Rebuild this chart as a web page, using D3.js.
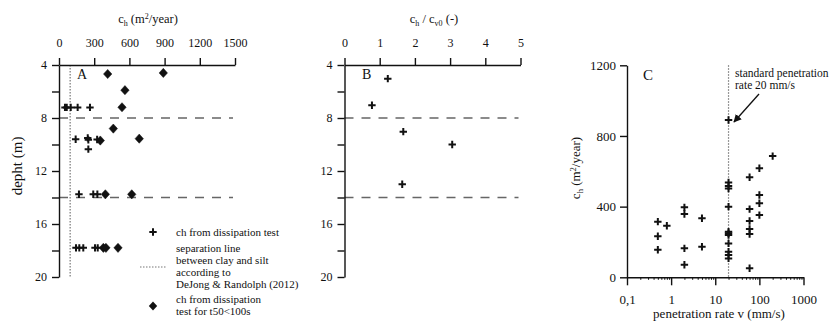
<!DOCTYPE html>
<html>
<head>
<meta charset="utf-8">
<script src="https://cdn.jsdelivr.net/npm/d3@7"></script>
<style>
body { margin: 0; background: #fff; }
svg text { font-family: "Liberation Serif", "Times New Roman", serif; fill: #111; }
.axis path, .axis line { stroke: #111; stroke-width: 1.4; }
.axis text { font-size: 12px; }
.axisC text { font-size: 13px; }
.minor path { display: none; }
.minor line { stroke: #111; stroke-width: 1; }
</style>
</head>
<body>
<div id="chart"></div>
<script>
var width = 829;
var height = 334;

// Panel A: [ch (m2/year), depth (m)]
var aCross = [
  [51, 7.2], [66, 7.2], [100, 7.2], [159, 7.2], [264, 7.2],
  [142, 9.6], [245, 9.5], [250, 9.65], [325, 9.62],
  [250, 10.35],
  [170, 13.76], [292, 13.76], [327, 13.76],
  [145, 17.8], [173, 17.8], [207, 17.8], [307, 17.8], [330, 17.8]
];
var aDiamond = [
  [415, 4.68], [889, 4.6], [562, 5.9], [537, 7.19], [463, 8.8],
  [352, 9.7], [684, 9.56], [395, 13.76], [620, 13.76],
  [378, 17.8], [400, 17.8], [503, 17.8]
];
var aTicks = [0, 300, 600, 900, 1200, 1500];
var depthTicks = [4, 6, 8, 10, 12, 14, 16, 18, 20];
var layerDepths = [8, 14];
var clayLimit = 95;

// Panel B: [ch / cv0, depth]
var bCross = [[1.23, 5.03], [0.78, 7.04], [1.67, 9.03], [3.06, 10.0], [1.64, 13.0]];
var bTicks = [0, 1, 2, 3, 4, 5];

// Panel C: [v (mm/s), ch (m2/year)]
var cCross = [
  [0.5, 315], [0.5, 232], [0.5, 156],
  [0.8, 292],
  [2, 396], [2, 358], [2, 164], [2, 71],
  [5, 334], [5, 173],
  [20, 890], [20, 537], [20, 517], [20, 503], [20, 400], [20, 258],
  [20, 249], [20, 239], [20, 192], [20, 145], [20, 126], [20, 107],
  [60, 566], [60, 386], [60, 319], [60, 273], [60, 245], [60, 51],
  [100, 617], [100, 466], [100, 419], [100, 352],
  [200, 686]
];
var cTicksY = [0, 400, 800, 1200];
var cTicksX = [0.1, 1, 10, 100, 1000];
var cTickLabels = ["0,1", "1", "10", "100", "1000"];
var standardRate = 20;

var svg = d3.select("#chart")
  .append("svg")
  .attr("width", width)
  .attr("height", height);

svg.append("defs").append("marker")
  .attr("id", "arrow")
  .attr("viewBox", "0 0 10 10")
  .attr("refX", 9)
  .attr("refY", 5)
  .attr("markerWidth", 8)
  .attr("markerHeight", 8)
  .attr("markerUnits", "userSpaceOnUse")
  .attr("orient", "auto")
  .append("path")
  .attr("d", "M0,0L10,5L0,10Z")
  .attr("fill", "#111");

var crossPath = "M-3.7,0H3.7M0,-3.7V3.7";
var diamondPath = "M0,-4.6L4.2,0L0,4.6L-4.2,0Z";

var yDepth = d3.scaleLinear().domain([4, 20]).range([65, 277]);
var xA = d3.scaleLinear().domain([0, 1500]).range([59, 235]);
var xB = d3.scaleLinear().domain([0, 5]).range([344.5, 520.5]);
var xC = d3.scaleLog().domain([0.1, 1000]).range([627, 803.5]);
var yC = d3.scaleLinear().domain([0, 1200]).range([277.3, 65.3]);

function depthAxis(x) {
  svg.append("g")
    .attr("class", "axis")
    .attr("transform", "translate(" + x + ",0)")
    .call(d3.axisLeft(yDepth)
      .tickValues(depthTicks)
      .tickSize(7)
      .tickPadding(5)
      .tickSizeOuter(0)
      .tickFormat(function(d) { return d % 4 === 0 ? d : ""; }));
}

function topAxis(scale, ticks) {
  svg.append("g")
    .attr("class", "axis")
    .attr("transform", "translate(0," + yDepth(4) + ")")
    .call(d3.axisTop(scale)
      .tickValues(ticks)
      .tickSize(7)
      .tickPadding(11)
      .tickSizeOuter(0)
      .tickFormat(d3.format("d")));
}

function dashedLayers(scale) {
  svg.selectAll(null)
    .data(layerDepths)
    .enter()
    .append("line")
    .attr("x1", scale.range()[0])
    .attr("x2", scale.range()[1] - 2)
    .attr("y1", function(d) { return yDepth(d); })
    .attr("y2", function(d) { return yDepth(d); })
    .attr("stroke", "#666")
    .attr("stroke-width", 1.4)
    .attr("stroke-dasharray", "9,8");
}

function drawMarks(data, xs, ys, path) {
  svg.selectAll(null)
    .data(data)
    .enter()
    .append("path")
    .attr("d", path)
    .attr("transform", function(d) {
      return "translate(" + xs(d[0]) + "," + ys(d[1]) + ")";
    })
    .attr("fill", "#111")
    .attr("stroke", "#111")
    .attr("stroke-width", path === crossPath ? 2 : 0.5);
}

// ch (m2/year) with sub/superscript
function chLabel(sel, small) {
  sel.append("tspan").text("c");
  sel.append("tspan").attr("font-size", small).attr("dy", 3).text("h");
  sel.append("tspan").attr("dy", -3).text(" (m");
  sel.append("tspan").attr("font-size", small).attr("dy", -4.5).text("2");
  sel.append("tspan").attr("dy", 4.5).text("/year)");
}

// ---------- Panel A ----------
dashedLayers(xA);

svg.append("line")
  .attr("x1", xA(clayLimit)).attr("x2", xA(clayLimit))
  .attr("y1", yDepth(4)).attr("y2", yDepth(20))
  .attr("stroke", "#777")
  .attr("stroke-width", 1.2)
  .attr("stroke-dasharray", "1.5,1.5");

depthAxis(xA(0));
topAxis(xA, aTicks);

drawMarks(aCross, xA, yDepth, crossPath);
drawMarks(aDiamond, xA, yDepth, diamondPath);

var titleA = svg.append("text")
  .attr("x", 148)
  .attr("y", 23)
  .attr("text-anchor", "middle")
  .attr("font-size", "12.5px");
chLabel(titleA, "8px");

svg.append("text")
  .attr("transform", "translate(22,166)rotate(-90)")
  .attr("text-anchor", "middle")
  .attr("font-size", "15px")
  .text("depht (m)");

svg.append("text")
  .attr("x", 77).attr("y", 79)
  .attr("font-size", "14px")
  .text("A");

// legend
var legend = svg.append("g").attr("font-size", "11px");
legend.append("path")
  .attr("d", crossPath)
  .attr("transform", "translate(153,232)")
  .attr("stroke", "#111")
  .attr("stroke-width", 2);
legend.append("text").attr("x", 176).attr("y", 236).text("ch from dissipation test");

legend.append("line")
  .attr("x1", 140).attr("x2", 167)
  .attr("y1", 267).attr("y2", 267)
  .attr("stroke", "#777")
  .attr("stroke-width", 1.2)
  .attr("stroke-dasharray", "1.5,1.5");
var sepLines = ["separation line", "between clay and silt", "according to", "DeJong & Randolph (2012)"];
legend.selectAll(null)
  .data(sepLines)
  .enter()
  .append("text")
  .attr("x", 176)
  .attr("y", function(d, i) { return 252 + i * 12; })
  .text(function(d) { return d; });

legend.append("path")
  .attr("d", diamondPath)
  .attr("transform", "translate(153,306)")
  .attr("fill", "#111");
legend.append("text").attr("x", 176).attr("y", 303).text("ch from dissipation");
legend.append("text").attr("x", 176).attr("y", 315).text("test for t50<100s");

// ---------- Panel B ----------
dashedLayers(xB);
depthAxis(xB(0));
topAxis(xB, bTicks);
drawMarks(bCross, xB, yDepth, crossPath);

var titleB = svg.append("text")
  .attr("x", 434)
  .attr("y", 23)
  .attr("text-anchor", "middle")
  .attr("font-size", "12.5px");
titleB.append("tspan").text("c");
titleB.append("tspan").attr("font-size", "8px").attr("dy", 3).text("h");
titleB.append("tspan").attr("dy", -3).text(" / c");
titleB.append("tspan").attr("font-size", "8px").attr("dy", 3).text("v0");
titleB.append("tspan").attr("dy", -3).text(" (-)");

svg.append("text")
  .attr("x", 362).attr("y", 79)
  .attr("font-size", "14px")
  .text("B");

// ---------- Panel C ----------
svg.append("line")
  .attr("x1", xC(standardRate)).attr("x2", xC(standardRate))
  .attr("y1", yC(1200)).attr("y2", yC(0))
  .attr("stroke", "#777")
  .attr("stroke-width", 1.2)
  .attr("stroke-dasharray", "1.5,1.5");

svg.append("g")
  .attr("class", "axis axisC")
  .attr("transform", "translate(" + xC.range()[0] + ",0)")
  .call(d3.axisLeft(yC)
    .tickValues(cTicksY)
    .tickSize(7)
    .tickPadding(4)
    .tickSizeOuter(0)
    .tickFormat(d3.format("d")));

var minorC = [];
[0.1, 1, 10, 100].forEach(function(dec) {
  for (var k = 2; k <= 9; k++) minorC.push(dec * k);
});
svg.append("g")
  .attr("class", "minor")
  .attr("transform", "translate(0," + yC(0) + ")")
  .call(d3.axisBottom(xC).tickValues(minorC).tickSize(2.5).tickFormat(""));

svg.append("g")
  .attr("class", "axis axisC")
  .attr("transform", "translate(0," + yC(0) + ")")
  .call(d3.axisBottom(xC)
    .tickValues(cTicksX)
    .tickSize(8)
    .tickPadding(9)
    .tickSizeOuter(0)
    .tickFormat(function(d, i) { return cTickLabels[i]; }));

drawMarks(cCross, xC, yC, crossPath);

var titleC = svg.append("text")
  .attr("transform", "translate(580,168)rotate(-90)")
  .attr("text-anchor", "middle")
  .attr("font-size", "13px");
chLabel(titleC, "8.5px");

svg.append("text")
  .attr("x", 719).attr("y", 318)
  .attr("text-anchor", "middle")
  .attr("font-size", "13px")
  .text("penetration rate v (mm/s)");

svg.append("text")
  .attr("x", 643).attr("y", 80)
  .attr("font-size", "15px")
  .text("C");

var note = svg.append("g").attr("font-size", "11.5px");
note.append("text").attr("x", 735).attr("y", 77).text("standard penetration");
note.append("text").attr("x", 735).attr("y", 89).text("rate 20 mm/s");
note.append("line")
  .attr("x1", 759).attr("y1", 94)
  .attr("x2", 734).attr("y2", 122)
  .attr("stroke", "#111")
  .attr("stroke-width", 1.3)
  .attr("marker-end", "url(#arrow)");
</script>
</body>
</html>
